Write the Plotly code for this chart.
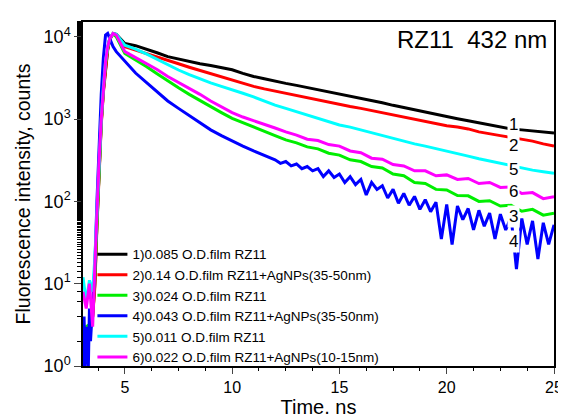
import math
import plotly.graph_objects as go

# ---- data (counts vs time in ns) ----
time_ns = [3.05, 3.2, 3.35, 3.5, 3.6, 3.7, 3.8, 3.9, 4.0, 4.1, 4.2, 4.3, 4.45, 4.6,
           5.0, 5.5, 6.0, 6.5, 7.0, 7.5, 8.0, 8.5, 9.0, 9.5, 10.0, 10.5, 11.0, 11.5, 12.0, 12.5,
           13.0, 13.5, 14.0, 14.5, 15.0, 15.5, 16.0, 16.5, 17.0, 17.5, 18.0, 18.5, 19.0, 19.5,
           20.0, 20.5, 21.0, 21.5, 22.0, 22.5, 23.0, 23.5, 24.0, 24.5, 25.0]

s1_counts = [1.6, 2, 2.5, 4, 10, 56, 280, 900, 2240, 4470, 7080, 9550, 11000, 10700,
             8300, 7800, 7100, 6400, 5750, 5350, 5000, 4700, 4470, 4200, 3980, 3600, 3300, 3100, 2880, 2720,
             2570, 2420, 2290, 2130, 2000, 1890, 1780, 1680, 1580, 1470, 1380, 1300, 1200, 1130,
             1070, 1010, 955, 900, 850, 800, 760, 740, 720, 690, 680]
s2_counts = [1.5, 2, 2.5, 4, 9, 50, 250, 850, 2100, 4300, 6900, 9300, 10800, 10600,
             7600, 6900, 6300, 5750, 5250, 4700, 4270, 3900, 3550, 3250, 3000, 2700, 2500, 2330, 2190, 2030,
             1900, 1790, 1700, 1600, 1510, 1420, 1350, 1270, 1200, 1120, 1050, 990, 930, 880,
             830, 800, 760, 700, 660, 630, 600, 570, 540, 500, 470]
s3_counts = [2, 3, 3.2, 5, 12, 60, 300, 950, 2300, 4600, 7200, 9600, 10900, 10000,
             6300, 5250, 4370, 3550, 2900, 2400, 2000, 1680, 1410, 1200, 1020, 900, 800, 710, 630, 560,
             515, 460, 435, 385, 365, 320, 305, 265, 255, 215, 205, 170, 165, 140,
             138, 118, 117, 100, 102, 88, 90, 76, 80, 68, 72]
s5_counts = [12, 6, 11, 8, 20, 80, 320, 1000, 2500, 5000, 7600, 9550, 11000, 10700,
             7900, 7100, 6200, 5300, 4570, 3950, 3470, 3080, 2750, 2500, 2290, 2060, 1860, 1650, 1480, 1350,
             1230, 1110, 1020, 920, 850, 800, 740, 680, 630, 580, 540, 500, 470, 440,
             410, 380, 355, 330, 310, 290, 275, 255, 240, 230, 220]
s6_counts = [8, 5, 10, 3, 16, 80, 320, 1000, 2500, 5000, 7600, 9550, 11000, 10500,
             6600, 5600, 4800, 4000, 3300, 2800, 2400, 2000, 1660, 1400, 1200, 1060, 950, 860, 780, 700,
             640, 570, 550, 490, 470, 410, 390, 335, 325, 280, 270, 235, 235, 205,
             210, 185, 190, 165, 170, 148, 150, 125, 128, 108, 114]

# blue series has its own (denser) sampling to keep its noisy tail
time_s4 = [3.05, 3.1, 3.15, 3.2, 3.3, 3.35, 3.4, 3.5, 3.6, 3.7, 3.8, 3.9, 4.0, 4.1, 4.2, 4.3, 4.45, 4.6,
           5.0, 5.5, 6.0, 6.5, 7.0, 7.5, 8.0, 8.5, 9.0, 9.5, 10.0, 10.5, 11.0, 11.5,
           12.0, 12.25, 12.5, 12.75, 13.0, 13.25, 13.5, 13.75, 14.0, 14.25, 14.5, 14.75,
           15.0, 15.25, 15.5, 15.75, 16.0, 16.25, 16.5, 16.75, 17.0, 17.25, 17.5, 17.75,
           18.0, 18.25, 18.5, 18.75, 19.0, 19.25, 19.5, 19.75, 20.0, 20.25, 20.5, 20.75,
           21.0, 21.25, 21.5, 21.75, 22.0, 22.25, 22.5, 22.75, 23.0, 23.25, 23.5, 23.75,
           24.0, 24.25, 24.5, 24.75, 25.0]
s4_counts = [1, 4, 1, 3, 1, 5, 2, 5, 16, 100, 500, 2000, 5600, 10500, 11000, 9500, 7600, 6600,
             5000, 3630, 2800, 2150, 1660, 1350, 1100, 900, 740, 630, 540, 470, 410, 360,
             320, 290, 305, 270, 285, 250, 265, 235, 250, 200, 235, 195,
             215, 170, 200, 160, 185, 120, 170, 140, 155, 110, 140, 95,
             125, 90, 115, 80, 105, 75, 98, 35, 92, 30, 88, 60,
             82, 45, 78, 50, 72, 35, 70, 45, 65, 15, 62, 30,
             58, 20, 55, 30, 52]

series_names = ["1)0.085 O.D.film RZ11",
                "2)0.14 O.D.film RZ11+AgNPs(35-50nm)",
                "3)0.024 O.D.film RZ11",
                "4)0.043 O.D.film RZ11+AgNPs(35-50nm)",
                "5)0.011 O.D.film RZ11",
                "6)0.022 O.D.film RZ11+AgNPs(10-15nm)"]
series_colors = ["#000000", "#ff0000", "#00ee00", "#0000ff", "#00ffff", "#ff00ff"]
series_x = [time_ns, time_ns, time_ns, time_s4, time_ns, time_ns]
series_values = [s1_counts, s2_counts, s3_counts, s4_counts, s5_counts, s6_counts]

curve_labels = ["1", "2", "5", "6", "3", "4"]
curve_label_y = [850, 480, 245, 132, 66, 33]
curve_label_x = 23.13

ytick_vals = [1, 10, 100, 1000, 10000]
ytick_text = ["10<sup>0</sup>", "10<sup>1</sup>", "10<sup>2</sup>", "10<sup>3</sup>", "10<sup>4</sup>"]

FONT = "Arial, Liberation Sans, sans-serif"

fig = go.Figure()
for name, col, xs, vals in zip(series_names, series_colors, series_x, series_values):
    fig.add_trace(go.Scatter(x=xs, y=vals, mode="lines", name=name,
                             line=dict(color=col, width=3)))

for lab, ly in zip(curve_labels, curve_label_y):
    fig.add_annotation(x=curve_label_x, y=math.log10(ly), yref="y", xref="x", text=lab,
                       showarrow=False, font=dict(size=17, color="black", family=FONT),
                       bgcolor="white", borderpad=1)

fig.add_annotation(x=0.99, y=0.995, xref="paper", yref="paper", text="RZ11  432 nm",
                   showarrow=False, xanchor="right", yanchor="top",
                   font=dict(size=24, color="black", family=FONT))

fig.update_layout(
    width=566, height=414,
    margin=dict(l=75, r=11, t=14, b=44),
    paper_bgcolor="white", plot_bgcolor="white",
    font=dict(family=FONT, color="black"),
    showlegend=True,
    legend=dict(x=0.02, y=-0.02, xanchor="left", yanchor="bottom",
                bgcolor="rgba(0,0,0,0)", font=dict(size=13.5, family=FONT),
                itemwidth=30, tracegroupgap=0),
    xaxis=dict(range=[3.05, 25], tickvals=[5, 10, 15, 20, 25], ticks="outside",
               ticklen=6, tickwidth=1.2, showline=True, linecolor="black", linewidth=1.5,
               mirror=True, showgrid=False, zeroline=False,
               minor=dict(dtick=1.25, tick0=0, ticks="outside", ticklen=3, tickcolor="black"),
               tickfont=dict(size=16),
               title=dict(text="Time, ns", font=dict(size=20), standoff=1)),
    yaxis=dict(type="log", range=[0, 4.18], tickvals=ytick_vals, ticktext=ytick_text,
               ticks="outside", ticklen=7, tickwidth=1.2, showline=True, linecolor="black",
               linewidth=1.5, mirror=True, showgrid=False, zeroline=False,
               minor=dict(ticks="outside", ticklen=4, tickcolor="black"),
               tickfont=dict(size=18),
               title=dict(text="Fluorescence intensity, counts", font=dict(size=19.5), standoff=8)),
)

fig.write_html("out.html")
